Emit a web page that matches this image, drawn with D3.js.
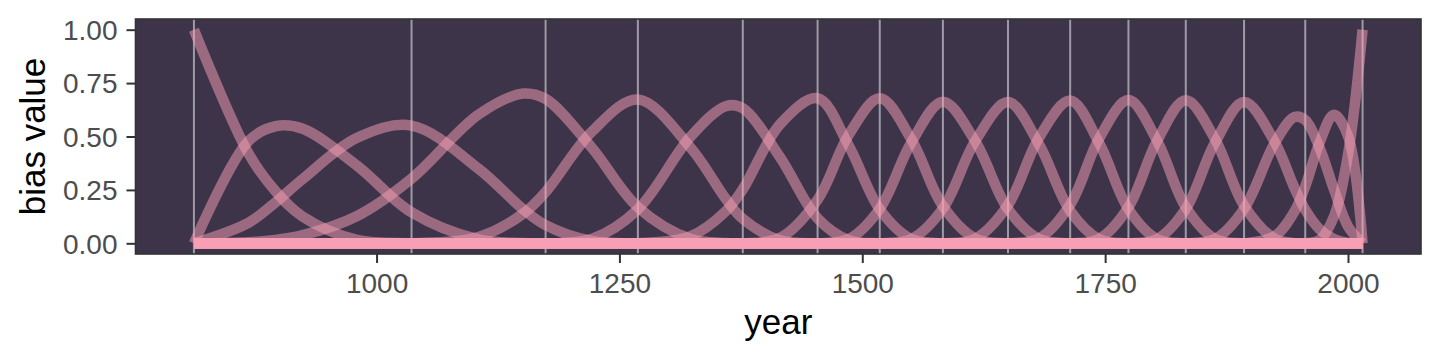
<!DOCTYPE html>
<html>
<head>
<meta charset="utf-8">
<script src="https://cdn.jsdelivr.net/npm/d3@7"></script>
<style>
  html, body { margin: 0; padding: 0; background: #ffffff; }
  svg { display: block; }
  text { font-family: "Liberation Sans", Arial, Helvetica, sans-serif; }
</style>
</head>
<body>
<svg id="chart" width="1440" height="360"></svg>
<script>
// ---- data ----
const knots = [812, 1036, 1174, 1269, 1377, 1454, 1518, 1583, 1650, 1714, 1774, 1833, 1893, 1956, 2015];
const years = [812, 868, 896, 924, 980, 1036, 1105, 1151, 1174, 1221.5, 1269, 1323, 1360, 1377, 1415.5, 1454,
               1486, 1518, 1550.5, 1583, 1616.5, 1650, 1682, 1714, 1744, 1774, 1803.5, 1833, 1863, 1893,
               1924.5, 1945, 1956, 1970.75, 1985.5, 2000.25, 2015];
//            812  868   896   924   980   1036  1105  1151  1174  1221  1269  1323  1360  1377  1415  1454  1486  1518  1550  1583  1616  1650  1682  1714  1744  1774  1803  1833  1863  1893  1924  1945  1956  1970  1985  2000  2015
const b01 = [1,   .422, .244, .125, .016, 0,    0,    0,    0,    0,    0,    0,    0,    0,    0,    0,    0,    0,    0,    0,    0,    0,    0,    0,    0,    0,    0,    0,    0,    0,    0,    0,    0,    0,    0,    0,    0];
const b02 = [0,   .478, .548, .536, .363, .145, .018, .001, 0,    0,    0,    0,    0,    0,    0,    0,    0,    0,    0,    0,    0,    0,    0,    0,    0,    0,    0,    0,    0,    0,    0,    0,    0,    0,    0,    0,    0];
const b03 = [0,   .096, .192, .301, .494, .551, .349, .159, .085, .011, 0,    0,    0,    0,    0,    0,    0,    0,    0,    0,    0,    0,    0,    0,    0,    0,    0,    0,    0,    0,    0,    0,    0,    0,    0,    0,    0];
const b04 = [0,   .005, .016, .038, .128, .303, .603, .701, .676, .448, .169, .021, .001, 0,    0,    0,    0,    0,    0,    0,    0,    0,    0,    0,    0,    0,    0,    0,    0,    0,    0,    0,    0,    0,    0,    0,    0];
const b05 = [0,   0,    0,    0,    0,    0,    .030, .139, .240, .522, .673, .449, .205, .115, .014, 0,    0,    0,    0,    0,    0,    0,    0,    0,    0,    0,    0,    0,    0,    0,    0,    0,    0,    0,    0,    0,    0];
const b06 = [0,   0,    0,    0,    0,    0,    0,    0,    0,    .020, .159, .498, .643, .632, .402, .117, .015, 0,    0,    0,    0,    0,    0,    0,    0,    0,    0,    0,    0,    0,    0,    0,    0,    0,    0,    0,    0];
const b07 = [0,   0,    0,    0,    0,    0,    0,    0,    0,    0,    0,    .032, .152, .253, .558, .679, .458, .159, .020, 0,    0,    0,    0,    0,    0,    0,    0,    0,    0,    0,    0,    0,    0,    0,    0,    0,    0];
const b08 = [0,   0,    0,    0,    0,    0,    0,    0,    0,    0,    0,    0,    0,    0,    .026, .204, .507, .679, .487, .174, .022, 0,    0,    0,    0,    0,    0,    0,    0,    0,    0,    0,    0,    0,    0,    0,    0];
const b09 = [0,   0,    0,    0,    0,    0,    0,    0,    0,    0,    0,    0,    0,    0,    0,    0,    .020, .162, .472, .663, .476, .160, .020, 0,    0,    0,    0,    0,    0,    0,    0,    0,    0,    0,    0,    0,    0];
const b10 = [0,   0,    0,    0,    0,    0,    0,    0,    0,    0,    0,    0,    0,    0,    0,    0,    0,    0,    .020, .163, .480, .661, .463, .152, .019, 0,    0,    0,    0,    0,    0,    0,    0,    0,    0,    0,    0];
const b11 = [0,   0,    0,    0,    0,    0,    0,    0,    0,    0,    0,    0,    0,    0,    0,    0,    0,    0,    0,    0,    .022, .179, .495, .668, .468, .160, .020, 0,    0,    0,    0,    0,    0,    0,    0,    0,    0];
const b12 = [0,   0,    0,    0,    0,    0,    0,    0,    0,    0,    0,    0,    0,    0,    0,    0,    0,    0,    0,    0,    0,    0,    .023, .181, .492, .671, .480, .169, .021, 0,    0,    0,    0,    0,    0,    0,    0];
const b13 = [0,   0,    0,    0,    0,    0,    0,    0,    0,    0,    0,    0,    0,    0,    0,    0,    0,    0,    0,    0,    0,    0,    0,    0,    .021, .169, .480, .670, .489, .177, .022, .001, 0,    0,    0,    0,    0];
const b14 = [0,   0,    0,    0,    0,    0,    0,    0,    0,    0,    0,    0,    0,    0,    0,    0,    0,    0,    0,    0,    0,    0,    0,    0,    0,    0,    .020, .161, .470, .662, .475, .258, .157, .066, .020, .002, 0];
const b15 = [0,   0,    0,    0,    0,    0,    0,    0,    0,    0,    0,    0,    0,    0,    0,    0,    0,    0,    0,    0,    0,    0,    0,    0,    0,    0,    0,    0,    .020, .161, .469, .591, .577, .447, .253, .077, 0];
const b16 = [0,   0,    0,    0,    0,    0,    0,    0,    0,    0,    0,    0,    0,    0,    0,    0,    0,    0,    0,    0,    0,    0,    0,    0,    0,    0,    0,    0,    0,    0,    .033, .150, .267, .471, .602, .499, 0];
const b17 = [0,   0,    0,    0,    0,    0,    0,    0,    0,    0,    0,    0,    0,    0,    0,    0,    0,    0,    0,    0,    0,    0,    0,    0,    0,    0,    0,    0,    0,    0,    0,    0,    0,    .016, .125, .422, 1];
const seriesNames = ["01","02","03","04","05","06","07","08","09","10","11","12","13","14","15","16","17"];
const seriesValues = [b01,b02,b03,b04,b05,b06,b07,b08,b09,b10,b11,b12,b13,b14,b15,b16,b17];
const xTicks = [1000, 1250, 1500, 1750, 2000];
const yTicks = [0, 0.25, 0.5, 0.75, 1];
const yTickLabels = ["0.00", "0.25", "0.50", "0.75", "1.00"];

// ---- layout ----
const svg = d3.select("#chart");
const P = { left: 135.5, right: 1421, top: 19, bottom: 254 };
const xMin = d3.min(years), xMax = d3.max(years), pad = (xMax - xMin) * 0.05;
const x = d3.scaleLinear().domain([xMin - pad, xMax + pad]).range([P.left, P.right]);
const y = d3.scaleLinear().domain([-0.05, 1.05]).range([P.bottom, P.top]);

svg.append("rect")
  .attr("x", P.left).attr("y", P.top)
  .attr("width", P.right - P.left).attr("height", P.bottom - P.top)
  .attr("fill", "#3d344a");

svg.append("clipPath").attr("id", "clip").append("rect")
  .attr("x", P.left).attr("y", P.top)
  .attr("width", P.right - P.left).attr("height", P.bottom - P.top);

const plot = svg.append("g").attr("clip-path", "url(#clip)");

// knot lines
plot.selectAll("line.knot").data(knots).enter().append("line")
  .attr("class", "knot")
  .attr("x1", d => x(d)).attr("x2", d => x(d))
  .attr("y1", P.top).attr("y2", P.bottom)
  .attr("stroke", "#ffffff").attr("stroke-opacity", 0.5).attr("stroke-width", 2);

// basis lines
const line = d3.line()
  .x((d, i) => x(years[i]))
  .y(d => y(d))
  .curve(d3.curveCatmullRom.alpha(0.5));

plot.selectAll("path.basis").data(seriesValues).enter().append("path")
  .attr("class", "basis")
  .attr("d", d => line(d))
  .attr("fill", "none")
  .attr("stroke", "#fa9fb5")
  .attr("stroke-opacity", 0.5)
  .attr("stroke-width", 10.5)
  .attr("stroke-linejoin", "round")
  .attr("stroke-linecap", "butt");

// panel border
svg.append("rect")
  .attr("x", P.left).attr("y", P.top)
  .attr("width", P.right - P.left).attr("height", P.bottom - P.top)
  .attr("fill", "none").attr("stroke", "#333333").attr("stroke-width", 1.6);

// axes
const xAxis = svg.append("g").attr("transform", `translate(0,${P.bottom})`)
  .call(d3.axisBottom(x).tickValues(xTicks).tickFormat(d3.format("d")).tickSize(9).tickPadding(10));
const yAxis = svg.append("g").attr("transform", `translate(${P.left},0)`)
  .call(d3.axisLeft(y).tickValues(yTicks).tickFormat((d, i) => yTickLabels[i]).tickSize(9).tickPadding(9));

[xAxis, yAxis].forEach(g => {
  g.select(".domain").remove();
  g.selectAll(".tick line").attr("stroke", "#333333").attr("stroke-width", 2);
  g.selectAll(".tick text").attr("fill", "#4d4d4d").style("font-size", "28px")
    .style("font-family", "'Liberation Sans', Arial, sans-serif");
});
yAxis.selectAll(".tick text").attr("dy", "0.35em");

// titles
svg.append("text")
  .attr("x", (P.left + P.right) / 2).attr("y", 334)
  .attr("text-anchor", "middle")
  .style("font-size", "35px").attr("fill", "#000000")
  .text("year");

svg.append("text")
  .attr("transform", `translate(45,${(P.top + P.bottom) / 2}) rotate(-90)`)
  .attr("text-anchor", "middle")
  .style("font-size", "35px").attr("fill", "#000000")
  .text("bias value");
</script>
</body>
</html>
